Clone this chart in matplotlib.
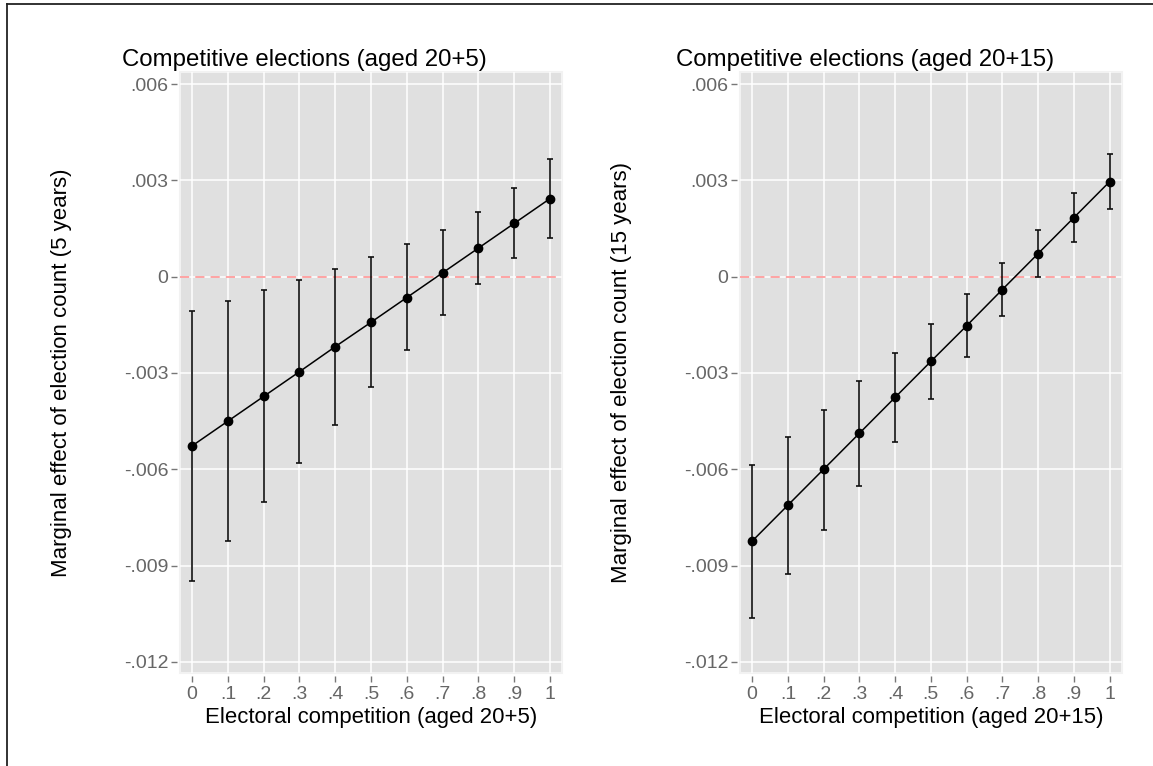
import matplotlib
matplotlib.use("Agg")
import matplotlib.pyplot as plt
from matplotlib.lines import Line2D

plt.rcParams['font.family'] = ['Liberation Sans', 'DejaVu Sans']

x_vals = [0, 0.1, 0.2, 0.3, 0.4, 0.5, 0.6, 0.7, 0.8, 0.9, 1.0]
x_ticklabels = ["0", ".1", ".2", ".3", ".4", ".5", ".6", ".7", ".8", ".9", "1"]
y_ticks = [0.006, 0.003, 0.0, -0.003, -0.006, -0.009, -0.012]
y_ticklabels = [".006", ".003", "0", "-.003", "-.006", "-.009", "-.012"]

# Left panel (aged 20+5)
left_est = [-0.00527, -0.00450, -0.00373, -0.00296, -0.00218, -0.00142, -0.00065, 0.00012, 0.00089, 0.00166, 0.00243]
left_hi = [-0.00107, -0.00075, -0.00041, -0.00010, 0.00024, 0.00060, 0.00101, 0.00145, 0.00201, 0.00275, 0.00368]
left_lo = [-0.00947, -0.00824, -0.00703, -0.00581, -0.00461, -0.00344, -0.00229, -0.00120, -0.00022, 0.00058, 0.00120]

# Right panel (aged 20+15)
right_est = [-0.00824, -0.00712, -0.00600, -0.00488, -0.00376, -0.00264, -0.00153, -0.00040, 0.00072, 0.00184, 0.00296]
right_hi = [-0.00587, -0.00500, -0.00414, -0.00325, -0.00237, -0.00147, -0.00055, 0.00043, 0.00146, 0.00260, 0.00382]
right_lo = [-0.01063, -0.00925, -0.00788, -0.00652, -0.00515, -0.00381, -0.00249, -0.00122, -0.00002, 0.00108, 0.00210]

titles = ["Competitive elections (aged 20+5)", "Competitive elections (aged 20+15)"]
xlabels = ["Electoral competition (aged 20+5)", "Electoral competition (aged 20+15)"]
ylabels = ["Marginal effect of election count (5 years)", "Marginal effect of election count (15 years)"]

W, H = 1153, 766
fig = plt.figure(figsize=(W / 100, H / 100), dpi=100)

panels = [
    (180, 562, left_est, left_lo, left_hi, 62, 122),
    (740, 1121.7, right_est, right_lo, right_hi, 622, 676),
]
top_px, bot_px = 72, 673

for i, (x0, x1, est, lo, hi, ylab_x, title_x) in enumerate(panels):
    ax = fig.add_axes([x0 / W, 1 - bot_px / H, (x1 - x0) / W, (bot_px - top_px) / H])
    ax.set_facecolor('#e0e0e0')
    ax.patch.set_edgecolor('#f2f2f2')
    ax.patch.set_linewidth(1.5)
    for s in ax.spines.values():
        s.set_visible(False)
    ax.spines['left'].set_position(('outward', 2))
    ax.spines['bottom'].set_position(('outward', 2))

    ax.set_xlim(-0.034, 1.034)
    ax.set_ylim(-0.01235, 0.00638)
    ax.set_xticks(x_vals)
    ax.set_xticklabels(x_ticklabels)
    ax.set_yticks(y_ticks)
    ax.set_yticklabels(y_ticklabels)
    ax.tick_params(axis='both', colors='#777777', labelcolor='#666666', labelsize=14,
                   length=4.5, width=1, direction='out')
    ax.tick_params(axis='x', pad=3)
    ax.tick_params(axis='y', pad=2)
    ax.grid(True, color='white', linewidth=1.1)
    ax.set_axisbelow(True)

    ax.axhline(0, color='#ff8c8c', linewidth=1.1, linestyle=(0, (6, 4)), zorder=2)

    yerr = [[e - l for e, l in zip(est, lo)], [h - e for e, h in zip(est, hi)]]
    ax.errorbar(x_vals, est, yerr=yerr, fmt='none', ecolor='#111111', elinewidth=1.2,
                capsize=2.5, capthick=1.2, zorder=3)
    ax.plot(x_vals, est, color='black', linewidth=1.1, marker='o', markersize=6,
            markerfacecolor='black', markeredgecolor='black', zorder=4)

    ax.set_xlabel(xlabels[i], fontsize=15.9, color='black')
    ax.set_ylabel(ylabels[i], fontsize=16, color='black')
    ax.yaxis.set_label_coords((ylab_x - x0) / (x1 - x0), 0.5)
    ax.xaxis.set_label_coords(0.5, (bot_px - 718) / (bot_px - top_px))
    ax.xaxis.label.set_va('center')
    ax.yaxis.label.set_va('center')

    fig.text(title_x / W, 1 - 60 / H, titles[i], fontsize=17.3, color='black',
             ha='left', va='center')

# Border frame (top and left edges visible)
fig.add_artist(Line2D([7 / W, 7 / W], [0, 1 - 3.5 / H], transform=fig.transFigure,
                      color='#222222', linewidth=1.3))
fig.add_artist(Line2D([7 / W, 1], [1 - 3.5 / H, 1 - 3.5 / H], transform=fig.transFigure,
                      color='#222222', linewidth=1.3))

fig.savefig("out.png", dpi=100, facecolor='white')
